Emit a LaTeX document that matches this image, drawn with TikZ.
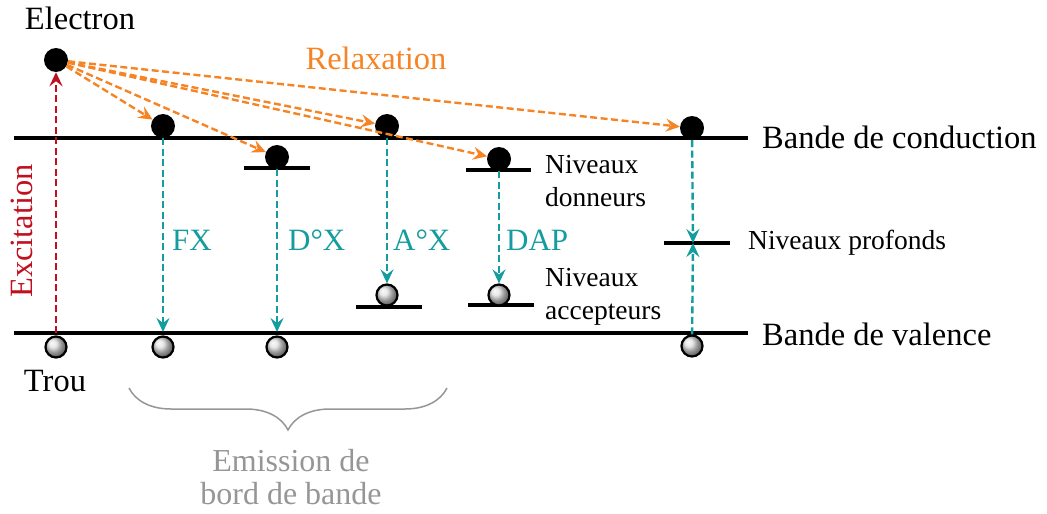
\documentclass[tikz,border=0pt]{standalone}
\usepackage{fontspec}
\setmainfont{Liberation Serif}
\usetikzlibrary{arrows.meta,decorations.pathreplacing,shadings}
\definecolor{relax}{RGB}{246,132,36}
\definecolor{tealc}{RGB}{20,156,158}
\definecolor{excit}{RGB}{192,16,32}
\definecolor{bracegray}{RGB}{150,150,150}
\tikzset{
  band/.style={line width=4pt},
  level/.style={line width=3.8pt},
  elec/.style={circle,fill=black,inner sep=0pt,minimum size=24pt},
  hole/.style={circle,draw=black,line width=2.2pt,ball color=gray!25,inner sep=0pt,minimum size=21pt},
  tip/.style={-{Stealth[length=14pt,width=13pt,inset=5pt]}},
  relaxarrow/.style={tip,draw=relax,line width=2.4pt,dash pattern=on 7pt off 3.5pt},
  emitarrow/.style={tip,draw=tealc,line width=2.4pt,dash pattern=on 7pt off 3.5pt},
  excitarrow/.style={tip,draw=excit,line width=2.4pt,dash pattern=on 7pt off 3.5pt},
  biglabel/.style={font=\fontsize{32.5}{36}\selectfont,inner sep=0pt},
  smalllabel/.style={font=\fontsize{27.5}{33}\selectfont,inner sep=0pt,align=left},
  emitlabel/.style={font=\fontsize{31}{34}\selectfont,text=tealc,inner sep=0pt},
}
\begin{document}
\begin{tikzpicture}[x=1pt,y=-1pt]
\useasboundingbox (0,0) rectangle (1047,514);
% bands
\coordinate (cbL) at (14,138); \coordinate (cbR) at (748,138);
\coordinate (vbL) at (14,333); \coordinate (vbR) at (748,333);
\draw[band] (cbL) -- (cbR);
\draw[band] (vbL) -- (vbR);
\node[biglabel,anchor=west] (cbt) at (762,137) {Bande de conduction};
\node[biglabel,anchor=west] (vbt) at (762,334) {Bande de valence};
% levels
\coordinate (d1L) at (244,168); \coordinate (d1R) at (310,168);
\coordinate (d2L) at (466,170); \coordinate (d2R) at (531,170);
\coordinate (a1L) at (356,307); \coordinate (a1R) at (422,307);
\coordinate (a2L) at (468,305); \coordinate (a2R) at (534,305);
\coordinate (dpL) at (664,243); \coordinate (dpR) at (730,243);
\draw[level] (d1L) -- (d1R);
\draw[level] (d2L) -- (d2R);
\draw[level] (a1L) -- (a1R);
\draw[level] (a2L) -- (a2R);
\draw[level] (dpL) -- (dpR);
\coordinate (dp) at (693,243);
% electrons
\node[elec] (e0) at (56,60) {};
\node[elec] (e1) at (163,126) {};
\node[elec] (e2) at (277,157) {};
\node[elec] (e3) at (387,126) {};
\node[elec] (e4) at (499,159) {};
\node[elec] (e5) at (692,128) {};
% holes
\node[hole] (h0) at (56,347) {};
\node[hole] (h1) at (163,347) {};
\node[hole] (h2) at (277,347) {};
\node[hole] (h3) at (387,295) {};
\node[hole] (h4) at (499,295) {};
\node[hole] (h5) at (692,346) {};
% valence arrival points
\coordinate (v1) at (163,332);
\coordinate (v2) at (277,332);
\coordinate (v0) at (56,333);
% texts
\node[biglabel] (elt) at (80,18) {Electron};
\node[biglabel] (trt) at (55,381) {Trou};
\node[biglabel,text=relax] (rlt) at (376,58) {Relaxation};
\node[biglabel,text=excit,rotate=90] (ext) at (22,231) {Excitation};
\node[smalllabel,anchor=west] (nd) at (545,181) {Niveaux\\donneurs};
\node[smalllabel,anchor=west] (na) at (545,297) {Niveaux\\accepteurs};
\node[smalllabel,anchor=west] (np) at (748,243) {Niveaux profonds};
\node[emitlabel,anchor=west] (fx) at (172,240) {FX};
\node[emitlabel,anchor=west] (dx) at (288,240) {D°X};
\node[emitlabel,anchor=west] (ax) at (393,240) {A°X};
\node[emitlabel,anchor=west] (dap) at (506,240) {DAP};
% excitation
\draw[excitarrow] (v0) -- (e0);
% relaxation
\draw[relaxarrow] (e0) -- (e1);
\draw[relaxarrow] (e0) -- (e2);
\draw[relaxarrow] (e0) -- (e3);
\draw[relaxarrow] (e0) -- (e4);
\draw[relaxarrow] (e0) -- (e5);
% emissions
\draw[emitarrow] (e1) -- (v1);
\draw[emitarrow] (e2) -- (v2);
\draw[emitarrow] (e3) -- (h3);
\draw[emitarrow] (e4) -- (h4);
\draw[emitarrow] (e5) -- (dp);
\draw[emitarrow] (h5) -- (dp);
% brace
\coordinate (brL) at (129,388);
\coordinate (brR) at (447,388);
\draw[bracegray,line width=1.5pt,decorate,decoration={brace,mirror,amplitude=42pt,aspect=0.5}] (brL) -- (brR);
\node[biglabel,text=bracegray,align=center,font=\fontsize{32}{33}\selectfont] (emt) at (291,477) {Emission de\\bord de bande};
\end{tikzpicture}
\end{document}
